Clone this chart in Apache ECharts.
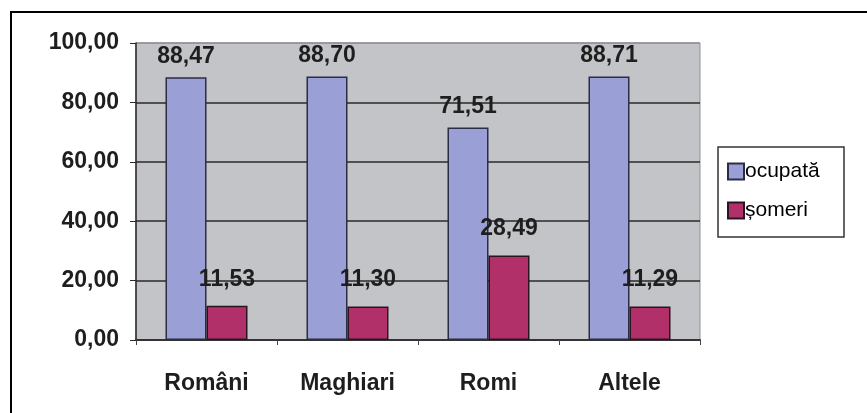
<!DOCTYPE html>
<html>
<head>
<meta charset="utf-8">
<script src="https://cdn.jsdelivr.net/npm/echarts@6/dist/echarts.min.js"></script>
<style>
  html, body { margin: 0; padding: 0; background: #ffffff; }
  #chart { width: 867px; height: 413px; }
</style>
</head>
<body>
<div id="chart"></div>
<script>
// Population by ethnic group: share employed vs. unemployed (%)
const categories = ['Români', 'Maghiari', 'Romi', 'Altele'];
const ocupata = [88.47, 88.70, 71.51, 88.71];
const someri = [11.53, 11.30, 28.49, 11.29];
const seriesNames = ['ocupată', 'șomeri'];
const yTicks = { min: 0, max: 100, interval: 20 };

const fmt = v => Number(v).toFixed(2).replace('.', ',');
const font = '"Liberation Sans", Arial, sans-serif';

const chart = echarts.init(document.getElementById('chart'), null, { renderer: 'canvas' });

chart.setOption({
  animation: false,
  backgroundColor: '#ffffff',
  grid: {
    left: 136, right: 167, top: 43, bottom: 73,
    show: true,
    backgroundColor: '#c2c4c7',
    borderColor: '#8f9194',
    borderWidth: 1
  },
  legend: {
    orient: 'vertical',
    left: 722,
    top: 156,
    itemWidth: 16,
    itemHeight: 16,
    itemGap: 18,
    icon: 'rect',
    textStyle: { fontFamily: font, fontSize: 21, color: '#000', padding: [0, 0, 0, -4] },
    data: seriesNames
  },
  xAxis: {
    type: 'category',
    data: categories,
    axisLine: { lineStyle: { color: '#333', width: 2 } },
    axisTick: { show: true, length: 5, lineStyle: { color: '#444' } },
    axisLabel: { fontFamily: font, fontWeight: 'bold', fontSize: 23, color: '#1e1e1e', margin: 32 }
  },
  yAxis: {
    type: 'value',
    min: yTicks.min, max: yTicks.max, interval: yTicks.interval,
    axisLine: { show: true, lineStyle: { color: '#2a2a2a', width: 1.5 } },
    axisTick: { show: true, length: 6, lineStyle: { color: '#2a2a2a' } },
    axisLabel: {
      fontFamily: font, fontWeight: 'bold', fontSize: 23, color: '#1e1e1e', margin: 17,
      formatter: fmt
    },
    splitLine: { show: true, lineStyle: { color: ['#2a2a2a', '#2a2a2a', '#2a2a2a', '#2a2a2a', '#2a2a2a', '#8f9194'], width: 1.5 } }
  },
  series: [
    {
      name: seriesNames[0],
      type: 'bar',
      data: ocupata,
      barWidth: 41,
      barGap: '0%',
      itemStyle: { color: '#9a9fd5', borderColor: '#2b2d45', borderWidth: 1.5 },
      label: {
        show: true, position: 'top', distance: 9,
        fontFamily: font, fontWeight: 'bold', fontSize: 23, color: '#1e1e1e',
        formatter: p => fmt(p.value)
      }
    },
    {
      name: seriesNames[1],
      type: 'bar',
      data: someri,
      barWidth: 41,
      itemStyle: { color: '#b2306a', borderColor: '#2a1420', borderWidth: 1.5 },
      label: {
        show: true, position: 'top', distance: 15,
        fontFamily: font, fontWeight: 'bold', fontSize: 23, color: '#1e1e1e',
        formatter: p => fmt(p.value)
      }
    }
  ],
  graphic: [
    {
      type: 'polyline',
      shape: { points: [[11, 420], [11, 12], [870, 12]] },
      style: { stroke: '#000', lineWidth: 2, fill: null },
      z: 10
    },
    {
      type: 'rect',
      shape: { x: 718, y: 147, width: 126, height: 90 },
      style: { fill: '#ffffff', stroke: '#333', lineWidth: 1.5 },
      z: 0
    }
  ]
});
</script>
</body>
</html>
